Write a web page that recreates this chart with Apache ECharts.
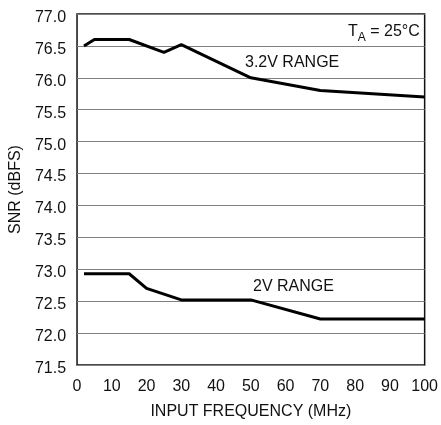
<!DOCTYPE html>
<html><head><meta charset="utf-8">
<script src="https://cdn.jsdelivr.net/npm/echarts@6/dist/echarts.min.js"></script>
<style>html,body{margin:0;padding:0;background:#fff}#c{width:441px;height:425px}</style>
</head><body><div id="c"></div>
<script>
const freq32 = [2, 5, 15, 25, 30, 50, 70, 100];
const snr32  = [76.5, 76.6, 76.6, 76.4, 76.52, 76.0, 75.8, 75.7];
const freq2  = [2, 15, 20, 30, 50, 70, 100];
const snr2   = [72.93, 72.93, 72.7, 72.52, 72.52, 72.22, 72.22];
const xTicks = [0,10,20,30,40,50,60,70,80,90,100];
const yTicks = [71.5,72.0,72.5,73.0,73.5,74.0,74.5,75.0,75.5,76.0,76.5,77.0];

const FONT = '"Liberation Sans", Arial, sans-serif';
const chart = echarts.init(document.getElementById('c'), null, {renderer:'canvas'});
const pair = (xs, ys) => xs.map((x,i)=>[x, ys[i]]);
chart.setOption({
  animation:false,
  backgroundColor:'#fff',
  grid:{left:76, right:13, top:14, bottom:59, show:true, borderColor:'#111', borderWidth:1.5},
  xAxis:{type:'value', min:xTicks[0], max:xTicks[xTicks.length-1], interval:10,
    name:'INPUT FREQUENCY (MHz)', nameLocation:'middle', nameGap:39,
    nameTextStyle:{fontFamily:FONT, fontSize:16, color:'#111'},
    axisLine:{show:false}, axisTick:{show:false}, splitLine:{show:false},
    axisLabel:{fontFamily:FONT, fontSize:16, color:'#111', margin:14}},
  yAxis:{type:'value', min:yTicks[0], max:yTicks[yTicks.length-1], interval:0.5,
    name:'SNR (dBFS)', nameLocation:'middle', nameGap:50, nameRotate:90,
    nameTextStyle:{fontFamily:FONT, fontSize:16, color:'#111'},
    axisLine:{show:false}, axisTick:{show:false},
    splitLine:{show:true, lineStyle:{color:'#808080', width:1}},
    axisLabel:{margin:11,
      formatter:v=>'{a|'+v.toFixed(1)+'}',
      rich:{a:{fontFamily:FONT, fontSize:16, color:'#111', padding:[7,0,0,0]}}}},
  series:[
    {type:'line', data:pair(freq32, snr32), symbol:'none', lineStyle:{color:'#000', width:3}},
    {type:'line', data:pair(freq2, snr2), symbol:'none', lineStyle:{color:'#000', width:3}}
  ],
  graphic:[
    {type:'text', left:245, top:55, style:{text:'3.2V RANGE', font:'16px '+FONT, fill:'#111'}},
    {type:'text', left:253, top:279, style:{text:'2V RANGE', font:'16px '+FONT, fill:'#111'}},
    {type:'text', left:348, top:24, style:{
      text:'{t|T}{s|A}{t| = 25°C}',
      rich:{t:{fontFamily:FONT, fontSize:16, fill:'#111', color:'#111', verticalAlign:'top'},
            s:{fontFamily:FONT, fontSize:12, fill:'#111', color:'#111', padding:[8,0,0,0], verticalAlign:'top'}}}}
  ]
});
</script></body></html>
